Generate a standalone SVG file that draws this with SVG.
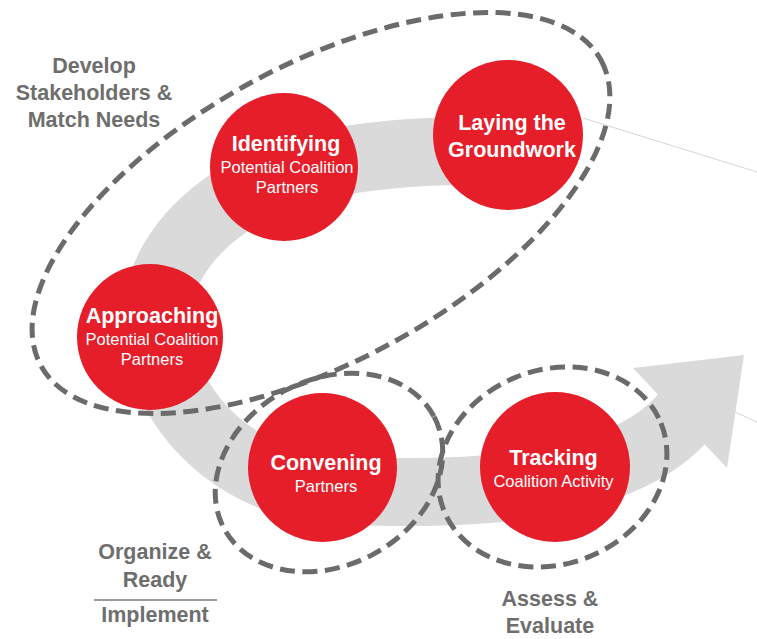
<svg xmlns="http://www.w3.org/2000/svg" width="757" height="639" viewBox="0 0 757 639">
  <style>
    .node { fill: #E61E2A; }
    .title { font-family: "Liberation Sans", Arial, Helvetica, sans-serif; font-weight: bold; font-size: 21.5px; fill: #FFFFFF; text-anchor: middle; }
    .sub { font-family: "Liberation Sans", Arial, Helvetica, sans-serif; font-size: 16.5px; fill: #FFFFFF; text-anchor: middle; }
    .label { font-family: "Liberation Sans", Arial, Helvetica, sans-serif; font-weight: bold; font-size: 21.5px; fill: #6E6E6E; text-anchor: middle; }
    .phase { fill: none; stroke: #6B6B6B; stroke-width: 5; stroke-dasharray: 15 7.5; }
    .band { fill: none; stroke: #DADADA; stroke-width: 68; }
    .faint { fill: none; stroke: #D6D6D6; stroke-width: 1; }
  </style>
  <rect width="757" height="639" fill="#FFFFFF"/>

  <g id="connectors">
    <line class="faint" x1="583" y1="118" x2="757" y2="172"/>
    <line class="faint" x1="735" y1="412" x2="757" y2="422"/>
    <path class="band" d="M 530 150 C 450 150, 335 150, 260 185 C 210 210, 165 250, 156 310 C 152 400, 230 485, 335 490 C 450 496, 620 495, 686 414"/>
    <polygon points="633,368 744,355 727,468" fill="#DADADA"/>
  </g>

  <g id="node-identifying">
    <circle class="node" cx="284" cy="167" r="74"/>
    <text class="title" x="286" y="150.5">Identifying</text>
    <text class="sub" x="287" y="173">Potential Coalition</text>
    <text class="sub" x="287" y="193">Partners</text>
  </g>

  <g id="node-laying">
    <circle class="node" cx="508" cy="135" r="75"/>
    <text class="title" x="512" y="130">Laying the</text>
    <text class="title" x="512" y="157">Groundwork</text>
  </g>

  <g id="node-approaching">
    <circle class="node" cx="150" cy="337" r="73"/>
    <text class="title" x="152" y="322.5">Approaching</text>
    <text class="sub" x="152" y="345">Potential Coalition</text>
    <text class="sub" x="152" y="365">Partners</text>
  </g>

  <g id="node-convening">
    <circle class="node" cx="322.5" cy="467.5" r="74.5"/>
    <text class="title" x="326" y="470">Convening</text>
    <text class="sub" x="326" y="492">Partners</text>
  </g>

  <g id="node-tracking">
    <circle class="node" cx="555" cy="467" r="75"/>
    <text class="title" x="553.5" y="465">Tracking</text>
    <text class="sub" x="553.5" y="487">Coalition Activity</text>
  </g>

  <g id="phase-develop">
    <ellipse class="phase" cx="321" cy="213" rx="319" ry="148" transform="rotate(-28.6 321 213)"/>
    <text class="label" x="94" y="73">Develop</text>
    <text class="label" x="94" y="100">Stakeholders &amp;</text>
    <text class="label" x="94" y="127">Match Needs</text>
  </g>

  <g id="phase-organize">
    <ellipse class="phase" cx="329" cy="472.5" rx="119" ry="93" transform="rotate(-28 329 472.5)"/>
    <text class="label" x="155" y="559">Organize &amp;</text>
    <text class="label" x="155" y="587">Ready</text>
    <line x1="94" y1="600" x2="217" y2="600" stroke="#7A7A7A" stroke-width="1.5"/>
    <text class="label" x="155" y="622">Implement</text>
  </g>

  <g id="phase-assess">
    <ellipse class="phase" cx="552.5" cy="467" rx="117" ry="97" transform="rotate(-22 552.5 467)"/>
    <text class="label" x="550" y="606">Assess &amp;</text>
    <text class="label" x="550" y="633">Evaluate</text>
  </g>
</svg>
